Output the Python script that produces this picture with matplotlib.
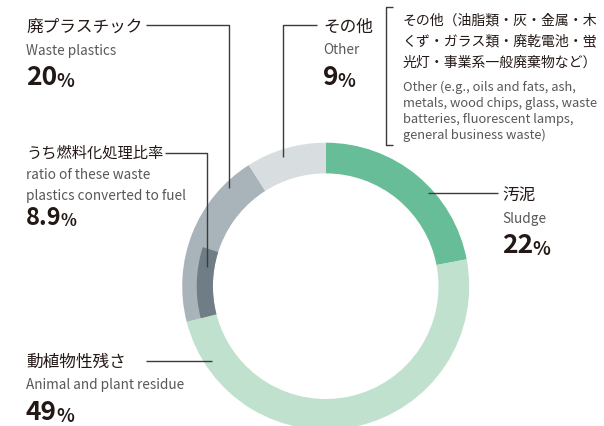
import matplotlib
matplotlib.use("Agg")
import matplotlib.pyplot as plt

plt.rcParams['font.family'] = ['Noto Sans CJK JP', 'DejaVu Sans']

# ---- data ----
labels_jp = ["汚泥", "動植物性残さ", "廃プラスチック", "その他"]
labels_en = ["Sludge", "Animal and plant residue", "Waste plastics", "Other"]
shares = [22, 49, 20, 9]
fuel_ratio = 8.9
colors = ["#66bd98", "#c0e1ce", "#a9b4ba", "#d8dde0"]
fuel_color = "#6e7d86"

W, H = 604, 426
DARK = "#231815"
GRAY = "#595757"
LINE = "#3e3a39"


def Y(y):
    # pixel (top-down) -> data (bottom-up)
    return H - y


fig = plt.figure(figsize=(W / 100, H / 100), dpi=100)
ax = fig.add_axes([0, 0, 1, 1])

cx, cy = 325.7, Y(286.2)
r_out, r_in, r_fuel = 143.5, 112.8, 129.0

ax.pie(shares, colors=colors, startangle=90, counterclock=False,
       center=(cx, cy), radius=r_out, frame=True,
       wedgeprops=dict(width=r_out - r_in, linewidth=0))

# 燃料化処理比率: inner band starting where plastics begin
start = shares[0] + shares[1]
fuel_vals = [start, fuel_ratio, 100 - start - fuel_ratio]
wedges, _ = ax.pie(fuel_vals, colors=["none", fuel_color, "none"], startangle=90,
                   counterclock=False, center=(cx, cy), radius=r_fuel, frame=True,
                   wedgeprops=dict(width=r_fuel - r_in, linewidth=0))
wedges[0].set_visible(False)
wedges[2].set_visible(False)

ax.set_xlim(0, W)
ax.set_ylim(0, H)
ax.set_aspect('auto')
ax.axis('off')


def leader(pts):
    xs = [p[0] for p in pts]
    ys = [Y(p[1]) for p in pts]
    ax.plot(xs, ys, color=LINE, lw=1.0, solid_capstyle='butt', zorder=5)


def pct(x, y, num, size=19):
    t = ax.text(x, Y(y), num, fontsize=size, fontweight='bold', color=DARK,
                va='center', ha='left')
    ax.annotate("%", xy=(1, 0), xycoords=t, xytext=(-0.5, 0),
                textcoords='offset points', fontsize=size * 0.7,
                fontweight='bold', color=DARK, va='bottom', ha='left')


def label(x, y, jp, en, num, jp_size=12, num_size=19, en_lines=None):
    ax.text(x, Y(y), jp, fontsize=jp_size, color=DARK, va='center', ha='left')
    if en_lines is None:
        en_lines = [(en, y + 23.5)]
    for txt, yy in en_lines:
        ax.text(x, Y(yy), txt, fontsize=9.8, color=GRAY, va='center', ha='left')
    pct(x, en_lines[-1][1] + 27 if num_size >= 19 else en_lines[-1][1] + 22,
        num, num_size)


# labels
label(26, 27, labels_jp[2], labels_en[2], "20")
label(323, 27, labels_jp[3], labels_en[3], "9")
label(502, 195, labels_jp[0], labels_en[0], "22")
label(26, 362, labels_jp[1], labels_en[1], "49")
label(26, 153, "うち燃料化処理比率", None, str(fuel_ratio), jp_size=11, num_size=17,
      en_lines=[("ratio of these waste", 175),
                ("plastics converted to fuel", 196)])

# leader lines
leader([(146, 25), (229, 25), (229, 188)])
leader([(317, 25), (283, 25), (283, 157)])
leader([(165, 153), (207, 153), (207, 267)])
leader([(428, 193), (498, 193)])
leader([(146, 361), (212, 361)])

# bracket + detail text for "その他"
leader([(393, 7), (386, 7), (386, 145), (393, 145)])
detail_jp = ["その他（油脂類・灰・金属・木",
             "くず・ガラス類・廃乾電池・蛍",
             "光灯・事業系一般廃棄物など）"]
detail_en = ["Other (e.g., oils and fats, ash,",
             "metals, wood chips, glass, waste",
             "batteries, fluorescent lamps,",
             "general business waste)"]
for i, s in enumerate(detail_jp):
    ax.text(403, Y(20 + 21.5 * i), s, fontsize=10, color=DARK, va='center', ha='left')
for i, s in enumerate(detail_en):
    ax.text(403, Y(87 + 16 * i), s, fontsize=9.3, color=GRAY, va='center', ha='left')

fig.savefig("out.png", dpi=100)
